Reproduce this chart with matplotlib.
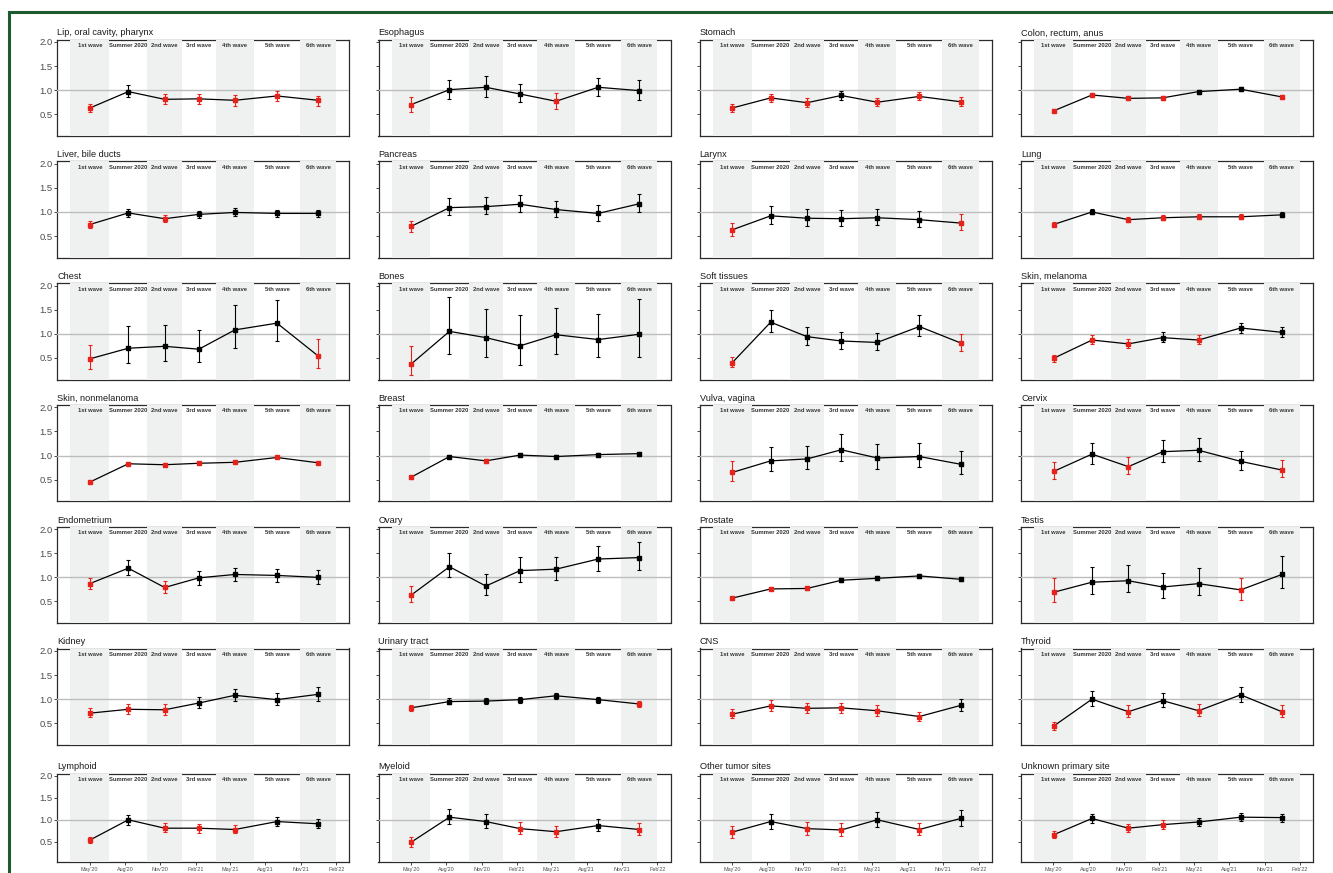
import matplotlib
matplotlib.use('Agg')
import matplotlib.pyplot as plt
import matplotlib.dates as mdates
import matplotlib.transforms as mtransforms
from matplotlib.lines import Line2D
import datetime as dt

plt.rcParams['font.family'] = ['Liberation Sans', 'DejaVu Sans']

# ---------------- data ----------------
waves = ['1st wave', 'Summer 2020', '2nd wave', '3rd wave', '4th wave', '5th wave', '6th wave']
wave_starts = ['2020-03-12', '2020-06-21', '2020-09-28', '2020-12-27',
               '2021-03-25', '2021-07-02', '2021-10-30']
wave_end = '2022-02-01'
shaded = [1, 0, 1, 0, 1, 0, 1]
x_limits = ['2020-02-07', '2022-03-07']
x_ticks = ['2020-05-01', '2020-08-01', '2020-11-01', '2021-02-01',
           '2021-05-01', '2021-08-01', '2021-11-01', '2022-02-01']
x_ticklabels = ["May'20", "Aug'20", "Nov'20", "Feb'21", "May'21", "Aug'21", "Nov'21", "Feb'22"]
y_ticks = [0.5, 1.0, 1.5, 2.0]
y_ticklabels = ['0.5', '1.0', '1.5', '2.0']

sites = ['Lip, oral cavity, pharynx', 'Esophagus', 'Stomach', 'Colon, rectum, anus',
         'Liver, bile ducts', 'Pancreas', 'Larynx', 'Lung',
         'Chest', 'Bones', 'Soft tissues', 'Skin, melanoma',
         'Skin, nonmelanoma', 'Breast', 'Vulva, vagina', 'Cervix',
         'Endometrium', 'Ovary', 'Prostate', 'Testis',
         'Kidney', 'Urinary tract', 'CNS', 'Thyroid',
         'Lymphoid', 'Myeloid', 'Other tumor sites', 'Unknown primary site']

estimate = [
    [0.63, 0.97, 0.81, 0.82, 0.79, 0.88, 0.79],
    [0.70, 1.01, 1.06, 0.92, 0.77, 1.06, 0.99],
    [0.63, 0.84, 0.74, 0.89, 0.75, 0.87, 0.76],
    [0.57, 0.90, 0.83, 0.84, 0.97, 1.02, 0.86],
    [0.74, 0.98, 0.86, 0.95, 0.99, 0.97, 0.97],
    [0.70, 1.09, 1.11, 1.16, 1.05, 0.97, 1.17],
    [0.63, 0.92, 0.87, 0.86, 0.88, 0.84, 0.77],
    [0.74, 1.00, 0.84, 0.88, 0.90, 0.90, 0.94],
    [0.48, 0.70, 0.74, 0.68, 1.08, 1.22, 0.54],
    [0.37, 1.05, 0.92, 0.75, 0.98, 0.88, 0.99],
    [0.40, 1.24, 0.94, 0.85, 0.82, 1.15, 0.81],
    [0.49, 0.87, 0.79, 0.92, 0.87, 1.12, 1.03],
    [0.45, 0.83, 0.81, 0.84, 0.86, 0.96, 0.85],
    [0.55, 0.98, 0.89, 1.01, 0.98, 1.02, 1.04],
    [0.65, 0.89, 0.93, 1.12, 0.95, 0.98, 0.82],
    [0.67, 1.03, 0.77, 1.08, 1.11, 0.88, 0.70],
    [0.87, 1.19, 0.79, 0.99, 1.06, 1.04, 1.00],
    [0.63, 1.22, 0.82, 1.14, 1.17, 1.38, 1.41],
    [0.57, 0.76, 0.77, 0.94, 0.98, 1.03, 0.96],
    [0.69, 0.90, 0.93, 0.80, 0.87, 0.74, 1.06],
    [0.71, 0.79, 0.78, 0.92, 1.08, 0.99, 1.10],
    [0.82, 0.95, 0.96, 0.99, 1.07, 0.99, 0.90],
    [0.69, 0.86, 0.81, 0.82, 0.76, 0.64, 0.87],
    [0.44, 1.00, 0.74, 0.97, 0.76, 1.09, 0.74],
    [0.54, 1.00, 0.81, 0.81, 0.78, 0.96, 0.91],
    [0.49, 1.06, 0.96, 0.80, 0.73, 0.87, 0.78],
    [0.72, 0.96, 0.80, 0.77, 1.00, 0.78, 1.03],
    [0.66, 1.03, 0.81, 0.89, 0.95, 1.06, 1.05],
]
lower = [
    [0.55, 0.86, 0.71, 0.72, 0.68, 0.78, 0.68],
    [0.54, 0.81, 0.86, 0.75, 0.61, 0.88, 0.80],
    [0.55, 0.75, 0.66, 0.80, 0.67, 0.79, 0.68],
    [0.54, 0.86, 0.80, 0.80, 0.93, 0.98, 0.82],
    [0.67, 0.90, 0.79, 0.88, 0.92, 0.89, 0.89],
    [0.59, 0.93, 0.95, 0.99, 0.89, 0.82, 0.99],
    [0.50, 0.75, 0.71, 0.70, 0.72, 0.68, 0.62],
    [0.70, 0.95, 0.80, 0.84, 0.85, 0.85, 0.89],
    [0.27, 0.39, 0.43, 0.41, 0.70, 0.85, 0.30],
    [0.15, 0.58, 0.52, 0.36, 0.58, 0.51, 0.51],
    [0.31, 1.03, 0.77, 0.69, 0.66, 0.96, 0.65],
    [0.42, 0.78, 0.70, 0.83, 0.78, 1.02, 0.93],
    [0.44, 0.82, 0.80, 0.83, 0.85, 0.94, 0.84],
    [0.52, 0.94, 0.85, 0.97, 0.94, 0.98, 1.00],
    [0.47, 0.68, 0.72, 0.88, 0.73, 0.76, 0.62],
    [0.52, 0.83, 0.61, 0.87, 0.89, 0.70, 0.55],
    [0.75, 1.04, 0.67, 0.85, 0.92, 0.91, 0.87],
    [0.49, 1.00, 0.64, 0.91, 0.95, 1.14, 1.15],
    [0.54, 0.73, 0.74, 0.90, 0.94, 0.99, 0.92],
    [0.48, 0.66, 0.69, 0.58, 0.63, 0.53, 0.78],
    [0.62, 0.69, 0.68, 0.81, 0.96, 0.88, 0.97],
    [0.76, 0.89, 0.90, 0.93, 1.01, 0.93, 0.84],
    [0.60, 0.76, 0.71, 0.72, 0.66, 0.55, 0.76],
    [0.37, 0.86, 0.63, 0.83, 0.65, 0.94, 0.63],
    [0.47, 0.89, 0.72, 0.71, 0.69, 0.86, 0.81],
    [0.39, 0.91, 0.82, 0.67, 0.62, 0.74, 0.66],
    [0.59, 0.80, 0.66, 0.64, 0.84, 0.65, 0.87],
    [0.58, 0.93, 0.72, 0.79, 0.86, 0.97, 0.96],
]
upper = [
    [0.72, 1.10, 0.92, 0.92, 0.89, 0.98, 0.88],
    [0.86, 1.22, 1.30, 1.13, 0.95, 1.25, 1.21],
    [0.72, 0.93, 0.83, 0.99, 0.84, 0.96, 0.85],
    [0.60, 0.94, 0.87, 0.87, 1.01, 1.06, 0.90],
    [0.82, 1.07, 0.93, 1.03, 1.08, 1.05, 1.05],
    [0.82, 1.29, 1.31, 1.36, 1.23, 1.15, 1.38],
    [0.78, 1.12, 1.06, 1.05, 1.07, 1.03, 0.96],
    [0.79, 1.06, 0.89, 0.93, 0.95, 0.95, 1.00],
    [0.77, 1.16, 1.19, 1.08, 1.59, 1.70, 0.89],
    [0.75, 1.77, 1.52, 1.38, 1.54, 1.41, 1.73],
    [0.51, 1.50, 1.15, 1.04, 1.01, 1.38, 0.99],
    [0.57, 0.97, 0.89, 1.03, 0.97, 1.23, 1.14],
    [0.47, 0.85, 0.83, 0.86, 0.88, 0.97, 0.87],
    [0.58, 1.02, 0.93, 1.05, 1.02, 1.06, 1.08],
    [0.89, 1.17, 1.20, 1.44, 1.24, 1.26, 1.09],
    [0.86, 1.27, 0.97, 1.33, 1.37, 1.09, 0.90],
    [0.99, 1.36, 0.92, 1.13, 1.20, 1.17, 1.15],
    [0.82, 1.50, 1.06, 1.43, 1.43, 1.66, 1.73],
    [0.60, 0.80, 0.81, 0.98, 1.02, 1.07, 1.01],
    [0.99, 1.22, 1.26, 1.10, 1.20, 0.99, 1.44],
    [0.82, 0.91, 0.90, 1.05, 1.22, 1.12, 1.25],
    [0.88, 1.02, 1.03, 1.05, 1.13, 1.05, 0.96],
    [0.79, 0.98, 0.93, 0.93, 0.87, 0.74, 1.00],
    [0.52, 1.17, 0.87, 1.13, 0.89, 1.26, 0.87],
    [0.62, 1.12, 0.92, 0.91, 0.88, 1.06, 1.01],
    [0.61, 1.24, 1.13, 0.95, 0.86, 1.01, 0.93],
    [0.87, 1.14, 0.96, 0.93, 1.18, 0.93, 1.22],
    [0.75, 1.13, 0.90, 0.99, 1.04, 1.15, 1.14],
]
# R = significantly reduced (red), B = not (black)
significance = [
    'RBRRRRR', 'RBBBRBB', 'RRRBRRR', 'RRRRBBR',
    'RBRBBBB', 'RBBBBBB', 'RBBBBBR', 'RBRRRRB',
    'RBBBBBR', 'RBBBBBB', 'RBBBBBR', 'RRRBRBB',
    'RRRRRRR', 'RBRBBBB', 'RBBBBBB', 'RBRBBBR',
    'RBRBBBB', 'RBBBBBB', 'RRRBBBB', 'RBBBBRB',
    'RRRBBBB', 'RBBBBBR', 'RRRRRRB', 'RBRBRBR',
    'RBRRRBB', 'RBBRRBR', 'RBRRBRB', 'RBRRBBB',
]

# ---------------- style / layout ----------------
W, H = 1333, 873
RED = '#E5231B'
SHADE = '#EFF1F0'
SPINE = '#2B2B2B'

fig = plt.figure(figsize=(W / 100, H / 100), dpi=100)
fig.patch.set_facecolor('white')

col_left = [57.3, 378.5, 699.7, 1021.0]
panel_w = 292.0
row_top = [39.5 + 121.8 * k for k in range(6)] + [773.5]
row_h = [96.5] * 6 + [88.2]

d2n = lambda s: mdates.date2num(dt.datetime.strptime(s, '%Y-%m-%d'))
bounds = [d2n(s) for s in wave_starts] + [d2n(wave_end)]
mids = [(bounds[k] + bounds[k + 1]) / 2 for k in range(len(waves))]

for i, name in enumerate(sites):
    r, c = divmod(i, 4)
    top = row_top[r]
    h = row_h[r]
    ax = fig.add_axes([col_left[c] / W, 1 - (top + h) / H, panel_w / W, h / H])
    ax.set_xlim(d2n(x_limits[0]), d2n(x_limits[1]))
    ax.set_ylim(0.05, 2.05)
    ax.set_facecolor('white')

    for k in range(len(waves)):
        if shaded[k]:
            ax.axvspan(bounds[k], bounds[k + 1], color=SHADE, lw=0, zorder=2.6)
    ax.axhline(1.0, color='#BDBDBD', lw=1.0, zorder=2.7)

    ax.plot(mids, estimate[i], color='black', lw=0.9, zorder=3)
    for k in range(len(waves)):
        col = RED if significance[i][k] == 'R' else 'black'
        e = estimate[i][k]
        ax.errorbar([mids[k]], [e], yerr=[[e - lower[i][k]], [upper[i][k] - e]],
                    fmt='s', ms=2.4, color=col, ecolor=col, elinewidth=0.8,
                    capsize=1.6, capthick=0.8, zorder=4)

    trans = mtransforms.offset_copy(
        mtransforms.blended_transform_factory(ax.transData, ax.transAxes),
        fig=fig, x=0, y=-2.5, units='points')
    for k in range(len(waves)):
        ax.text(mids[k], 1.0, waves[k], transform=trans, ha='center', va='top',
                fontsize=4.2, fontweight='bold', color='#333333', zorder=5)

    for sp in ax.spines.values():
        sp.set_color(SPINE)
        sp.set_linewidth(0.9)

    ax.set_yticks(y_ticks)
    ax.set_yticklabels(y_ticklabels if c == 0 else [])
    ax.tick_params(axis='y', length=2.5, width=0.6, color=SPINE,
                   labelsize=6.8, labelcolor='#4D4D4D', pad=1)
    if r == 6:
        ax.set_xticks([d2n(s) for s in x_ticks])
        ax.set_xticklabels(x_ticklabels)
        ax.tick_params(axis='x', length=2.5, width=0.6, color=SPINE,
                       labelsize=3.9, labelcolor='#4D4D4D', pad=1.5)
    else:
        ax.set_xticks([])

    ax.set_title(name, loc='left', fontsize=6.6, pad=3, color='#1A1A1A')

# green frame (cropped at right and bottom)
GREEN = '#1D5A2E'
fig.add_artist(Line2D([9 / W, 9 / W], [0, 1 - 11.7 / H], transform=fig.transFigure,
                      color=GREEN, lw=2.2, solid_capstyle='projecting'))
fig.add_artist(Line2D([9 / W, 1.0], [1 - 11.7 / H, 1 - 11.7 / H], transform=fig.transFigure,
                      color=GREEN, lw=2.2, solid_capstyle='projecting'))

fig.savefig('out.png', dpi=100)
